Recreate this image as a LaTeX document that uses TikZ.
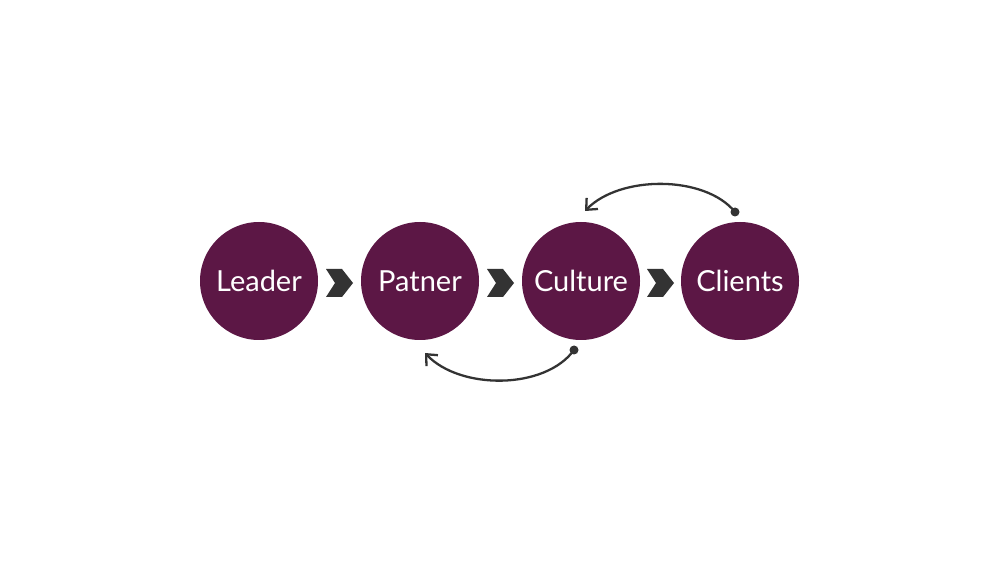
\documentclass[tikz,border=0pt]{standalone}
\usepackage{fontspec}
\setmainfont{Lato}
\usetikzlibrary{arrows.meta}
\definecolor{plum}{HTML}{5C1745}
\definecolor{chev}{HTML}{333333}
\tikzset{
  stage/.style={circle, fill=plum, minimum size=118*0.02cm, inner sep=0pt,
    text=white, font=\fontsize{16.5}{19}\selectfont},
  chevron/.style={fill=chev},
  loop/.style={draw=chev, line width=1.3pt, -{Straight Barb[length=5pt,width=9pt,line width=1.3pt]}},
  dotend/.style={circle, fill=chev, inner sep=0pt, minimum size=9*0.02cm},
}
\begin{document}
\begin{tikzpicture}[x=0.02cm,y=-0.02cm]
\useasboundingbox (0,0) rectangle (1000,563);
\fill[white] (0,0) rectangle (1000,563);
\node[stage] (leader) at (259,281) {Leader};
\node[stage] (patner) at (420,281) {Patner};
\node[stage] (culture) at (581,281) {Culture};
\node[stage] (clients) at (740,281) {Clients};
\foreach \cx in {340,501,661}{
  \fill[chevron] (\cx-14,269) -- (\cx+2,269) -- (\cx+13,283) -- (\cx+2,297) -- (\cx-14,297) -- (\cx-5,283) -- cycle;
}
\node[dotend] (d1) at (735,212) {};
\coordinate (t1) at (585,211);
\node[dotend] (d2) at (574,350) {};
\coordinate (t2) at (425,353);
\draw[loop] (d1.center) .. controls (705,175) and (620,175) .. (t1);
\draw[loop] (d2.center) .. controls (545,390) and (460,390) .. (t2);
\end{tikzpicture}
\end{document}
